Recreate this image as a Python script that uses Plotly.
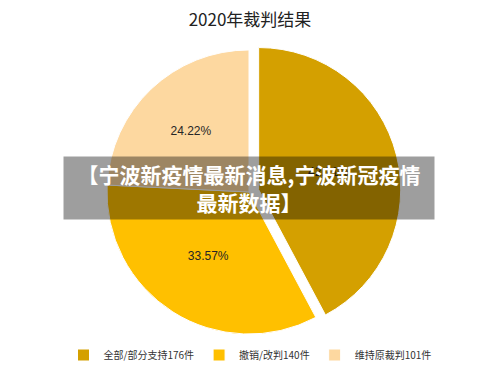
import plotly.graph_objects as go

categories = ["全部/部分支持176件", "撤销/改判140件", "维持原裁判101件"]
values = [176, 140, 101]
colors = ["#D4A000", "#FFC000", "#FDD8A0"]
pulls = [0.07, 0, 0]

title_text = "2020年裁判结果"
banner_text = "【宁波新疫情最新消息,宁波新冠疫情<br>最新数据】"

W, H = 500, 375

def px_x(p):
    return p / W

def px_y(p):
    return 1 - p / H

fig = go.Figure(go.Pie(
    labels=categories,
    values=values,
    sort=False,
    direction="clockwise",
    rotation=0,
    pull=pulls,
    domain=dict(x=[px_x(97), px_x(401)], y=[px_y(344), px_y(40)]),
    marker=dict(colors=colors, line=dict(color="white", width=1)),
    texttemplate="%{percent:.2%}",
    textposition="inside",
    insidetextorientation="horizontal",
    textfont=dict(family="Liberation Sans, Arial", size=12, color="#262626"),
    hoverinfo="label+percent",
))

fig.update_layout(
    width=W, height=H,
    margin=dict(l=0, r=0, t=0, b=0),
    paper_bgcolor="white",
    plot_bgcolor="white",
    title=dict(text=title_text, x=0.5, xref="paper", xanchor="center",
               y=px_y(20), yref="container", yanchor="middle",
               font=dict(family="Noto Sans CJK SC", size=17, color="#222222")),
    showlegend=True,
    legend=dict(orientation="h", x=0.5, xanchor="center", y=px_y(355), yanchor="middle",
                font=dict(family="Noto Sans CJK SC", size=10, color="#333333"),
                itemwidth=30, tracegroupgap=0),
    annotations=[dict(
        text="<b>" + banner_text + "</b>",
        xref="paper", yref="paper",
        x=px_x(249), y=px_y(187.5),
        xanchor="center", yanchor="middle",
        showarrow=False,
        align="center",
        font=dict(family="Noto Sans CJK SC", size=21, color="white"),
        bgcolor="rgba(0,0,0,0.38)",
        width=362, height=54, borderpad=4,
    )],
)

fig.write_html("out.html", config={"displayModeBar": False},
               post_script="document.body.style.margin='0';")
